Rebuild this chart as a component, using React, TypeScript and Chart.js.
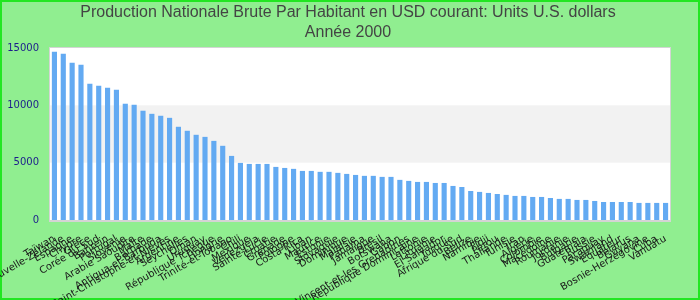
import React, { useEffect, useRef } from "react";
import { Chart, registerables } from "chart.js";

Chart.register(...registerables);

const titleLines = [
  "Production Nationale Brute Par Habitant en USD courant: Units U.S. dollars",
  "Année 2000",
];

const countries = [
  "Taïwan", "Nouvelle-Zélande", "Espagne", "Chypre", "Grèce", "Corée du Sud",
  "Bahreïn", "Portugal", "Slovénie", "Arabie Saoudite", "Malte", "Barbade",
  "Antigua-et-Barbuda", "Saint-Christophe-et-Niévès", "Argentine", "Seychelles",
  "Oman", "Uruguay", "République Tchèque", "Hongrie", "Trinité-et-Tobago", "Chili",
  "Mexique", "Venezuela", "Sainte-Lucie", "Croatie", "Grenade", "Pologne",
  "Costa Rica", "Liban", "Maurice", "Estonie", "Slovaquie", "Dominique",
  "Malaisie", "Panama", "Jamaïque", "Brésil", "Botswana", "Gabon",
  "Saint-Vincent-et-les Grenadines", "République Dominicaine", "Lettonie",
  "Lituanie", "El Salvador", "Turquie", "Afrique du Sud", "Belize", "Namibie",
  "Fidji", "Pérou", "Thaïlande", "Tunisie", "Iran", "Algérie", "Colombie",
  "Macédoine", "Roumanie", "Jordanie", "Bulgarie", "Guatemala", "Russie",
  "Paraguay", "Swaziland", "Équateur", "Bélarus", "Guyana",
  "Bosnie-Herzégovine", "Cuba", "Vanuatu",
];

const gnpPerCapita = [
  14680, 14500, 13720, 13550, 11890, 11710, 11540, 11360, 10140, 10050,
  9530, 9260, 9090, 8910, 8130, 7780, 7430, 7250, 6900, 6470,
  5590, 4980, 4890, 4890, 4890, 4630, 4540, 4460, 4280, 4280,
  4200, 4200, 4110, 4020, 3930, 3850, 3850, 3760, 3760, 3500,
  3410, 3320, 3320, 3230, 3230, 2970, 2880, 2530, 2450, 2360,
  2270, 2190, 2100, 2100, 2010, 2010, 1920, 1840, 1840, 1750,
  1750, 1660, 1570, 1570, 1570, 1570, 1490, 1490, 1490, 1490,
];

const yTicks = [0, 5000, 10000, 15000];

const backgroundPlugin = {
  id: "bgPlugin",
  beforeDraw(chart: any) {
    const { ctx, chartArea, scales } = chart;
    ctx.save();
    ctx.fillStyle = "#90ee90";
    ctx.fillRect(0, 0, chart.width, chart.height);
    ctx.strokeStyle = "#22e622";
    ctx.lineWidth = 2;
    ctx.strokeRect(1, 1, chart.width - 2, chart.height - 2);
    const { left, right, top, bottom } = chartArea;
    ctx.fillStyle = "#ffffff";
    ctx.fillRect(left, top, right - left, bottom - top);
    const y = scales.y;
    const b1 = y.getPixelForValue(yTicks[2]);
    const b2 = y.getPixelForValue(yTicks[1]);
    ctx.fillStyle = "#f2f2f2";
    ctx.fillRect(left, b1, right - left, b2 - b1);
    ctx.restore();
  },
  afterDatasetsDraw(chart: any) {
    const { ctx, chartArea } = chart;
    const { left, right, top, bottom } = chartArea;
    ctx.save();
    ctx.strokeStyle = "#d4d4d4";
    ctx.lineWidth = 1;
    ctx.strokeRect(left - 0.5, top - 0.5, right - left + 1, bottom - top + 1);
    ctx.beginPath();
    ctx.moveTo(left - 1, bottom + 1.5);
    ctx.lineTo(right + 1, bottom + 1.5);
    ctx.stroke();
    // title
    ctx.fillStyle = "#444444";
    ctx.font = "16px 'Liberation Sans', Arial, sans-serif";
    ctx.textAlign = "center";
    ctx.textBaseline = "middle";
    ctx.fillText(titleLines[0], 348, 13);
    ctx.fillText(titleLines[1], 348, 33);
    ctx.restore();
  },
};

export default function App() {
  const ref = useRef<HTMLCanvasElement | null>(null);
  useEffect(() => {
    document.body.style.margin = "0";
    if (!ref.current) return;
    const chart = new Chart(ref.current, {
      type: "bar",
      data: {
        labels: countries,
        datasets: [
          {
            data: gnpPerCapita,
            backgroundColor: "#63aaf2",
            categoryPercentage: 1,
            barPercentage: 0.58,
          },
        ],
      },
      options: {
        animation: false,
        responsive: false,
        layout: { padding: { right: 30, top: 48, left: 0, bottom: 0 } },
        plugins: {
          legend: { display: false },
          tooltip: { enabled: false },
          title: { display: false },
        },
        scales: {
          x: {
            grid: { display: false, drawTicks: false },
            border: { display: false },
            ticks: {
              autoSkip: false,
              maxRotation: 30,
              minRotation: 30,
              color: "#1a1a1a",
              padding: 13,
              font: { family: "'DejaVu Sans', sans-serif", size: 10 },
            },
            afterFit(scale: any) {
              scale.height = 80;
            },
          },
          y: {
            min: 0,
            max: 15000,
            grid: { display: false, drawTicks: false },
            border: { display: false },
            afterBuildTicks(scale: any) {
              scale.ticks = yTicks.map((v) => ({ value: v }));
            },
            ticks: {
              color: "#1c1c8c",
              padding: 11,
              font: { family: "'DejaVu Sans', sans-serif", size: 10 },
              callback: (v: any) => String(v),
            },
            afterFit(scale: any) {
              scale.width = 50;
            },
          },
        },
      },
      plugins: [backgroundPlugin],
    });
    return () => chart.destroy();
  }, []);
  return (
    <div style={{ width: 700, height: 300 }}>
      <canvas ref={ref} width={700} height={300} style={{ display: "block" }} />
    </div>
  );
}
